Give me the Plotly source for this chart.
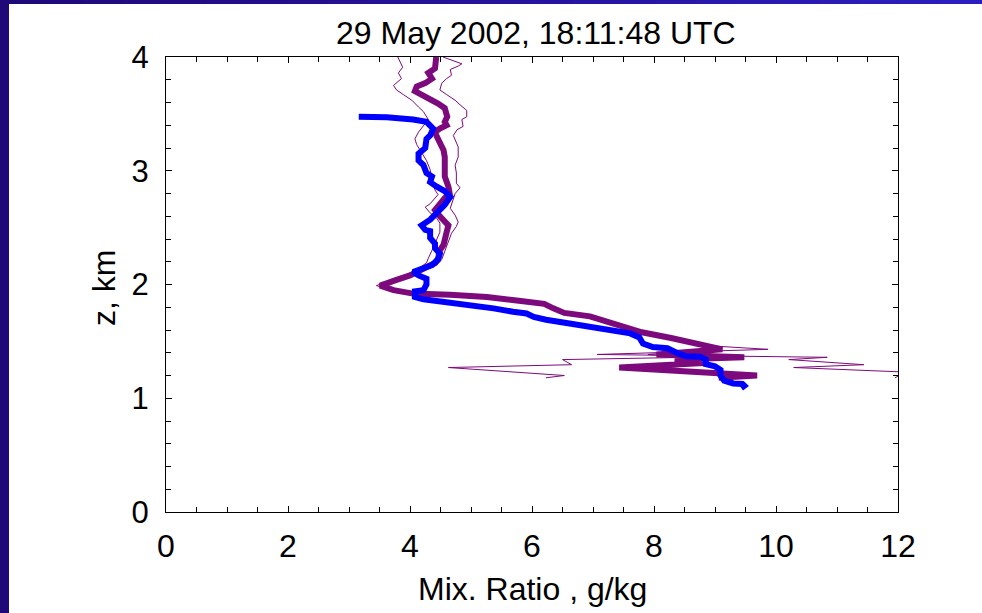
import plotly.graph_objects as go

# ---------------- data ----------------
blue_x = [3.16, 3.62, 4.05, 4.27, 4.38, 4.33, 4.27, 4.25, 4.14, 4.14, 4.22, 4.27, 4.36, 4.33, 4.44,
          4.57, 4.66, 4.57, 4.46, 4.33, 4.19, 4.25, 4.33, 4.33, 4.41, 4.41, 4.49, 4.46, 4.36, 4.22,
          4.05, 4.14, 4.27, 4.27, 4.22, 4.08, 4.08, 4.22, 4.55, 4.82, 5.09, 5.37, 5.69, 5.91, 6.03,
          6.23, 6.59, 6.95, 7.13, 7.37, 7.61, 7.76, 7.82, 7.98, 8.22, 8.37, 8.52, 8.76, 8.85, 8.85,
          9.00, 9.09, 9.09, 9.15, 9.30, 9.45, 9.48, 9.43]
blue_z = [3.475, 3.47, 3.45, 3.43, 3.37, 3.31, 3.28, 3.20, 3.15, 3.09, 3.05, 2.98, 2.95, 2.90, 2.86,
          2.82, 2.77, 2.70, 2.64, 2.57, 2.52, 2.48, 2.47, 2.41, 2.36, 2.32, 2.27, 2.22, 2.17, 2.14,
          2.11, 2.08, 2.05, 2.00, 1.95, 1.94, 1.89, 1.87, 1.85, 1.835, 1.82, 1.79, 1.76, 1.745, 1.715,
          1.69, 1.66, 1.63, 1.61, 1.59, 1.57, 1.535, 1.48, 1.45, 1.44, 1.40, 1.37, 1.365, 1.34, 1.30,
          1.28, 1.25, 1.20, 1.155, 1.13, 1.125, 1.11, 1.09]

mean_x = [4.43, 4.41, 4.30, 4.36, 4.25, 4.11, 4.08, 4.19, 4.33, 4.46, 4.57, 4.61, 4.57, 4.60, 4.49,
          4.41, 4.44, 4.49, 4.55, 4.57, 4.57, 4.57, 4.63, 4.65, 4.57, 4.46, 4.41, 4.49, 4.57, 4.63,
          4.60, 4.57, 4.55, 4.49, 4.46, 4.41, 4.30, 4.16, 4.00, 3.78, 3.51, 3.73, 4.05, 4.66, 5.26,
          5.75, 6.20, 6.35, 6.53, 6.95, 7.19, 7.43, 7.80, 8.28, 8.76, 9.12, 8.04, 9.48, 8.34, 8.82,
          7.43, 9.69, 9.06]
mean_z = [4.00, 3.90, 3.86, 3.81, 3.77, 3.74, 3.70, 3.67, 3.64, 3.59, 3.55, 3.475, 3.43, 3.40, 3.37,
          3.34, 3.30, 3.24, 3.18, 3.12, 3.04, 2.95, 2.86, 2.80, 2.76, 2.70, 2.655, 2.60, 2.55, 2.52,
          2.46, 2.41, 2.35, 2.30, 2.23, 2.19, 2.16, 2.13, 2.08, 2.04, 1.99, 1.95, 1.92, 1.91, 1.89,
          1.86, 1.83, 1.79, 1.75, 1.72, 1.68, 1.63, 1.58, 1.53, 1.47, 1.43, 1.385, 1.36, 1.34, 1.31,
          1.27, 1.20, 1.18]

lo_x = [3.80, 3.88, 3.81, 3.86, 3.73, 3.78, 3.89, 4.03, 4.14, 4.22, 4.30, 4.22, 4.14, 4.08, 4.11,
        4.27, 4.33, 4.36, 4.41, 4.46, 4.33, 4.25, 4.33, 4.44, 4.49, 4.49, 4.46, 4.41, 4.36, 4.30,
        4.27, 4.14, 3.95, 3.72, 3.45, 3.70, 4.05, 4.62, 5.22, 5.72, 6.17, 6.32, 6.50, 6.92, 7.16,
        7.40, 7.77, 8.25, 8.73, 8.90, 7.90, 8.60, 6.50, 6.65, 4.63, 6.53, 6.23]
lo_z = [4.00, 3.91, 3.86, 3.81, 3.75, 3.71, 3.67, 3.62, 3.56, 3.52, 3.45, 3.40, 3.34, 3.28, 3.23,
        3.09, 3.01, 2.92, 2.83, 2.79, 2.71, 2.68, 2.63, 2.58, 2.54, 2.46, 2.42, 2.36, 2.30, 2.23,
        2.19, 2.14, 2.09, 2.05, 1.99, 1.95, 1.925, 1.915, 1.895, 1.865, 1.835, 1.795, 1.755, 1.725, 1.685,
        1.635, 1.585, 1.535, 1.475, 1.43, 1.385, 1.36, 1.34, 1.295, 1.27, 1.20, 1.18]

hi_x = [4.54, 4.85, 4.79, 4.66, 4.68, 4.60, 4.52, 4.49, 4.60, 4.74, 4.82, 4.93, 4.93, 4.85, 4.87,
        4.77, 4.71, 4.74, 4.79, 4.79, 4.74, 4.76, 4.76, 4.82, 4.74, 4.66, 4.74, 4.79, 4.76, 4.68,
        4.63, 4.57, 4.52, 4.44, 4.27, 4.05, 3.82, 3.55, 3.76, 4.08, 4.70, 5.30, 5.78, 6.23, 6.38,
        6.56, 6.98, 7.22, 7.46, 7.83, 8.31, 8.79, 9.87, 7.07, 10.84, 10.21, 11.44, 10.29, 12.13, 11.95]
hi_z = [4.00, 3.94, 3.92, 3.89, 3.84, 3.81, 3.77, 3.71, 3.67, 3.62, 3.58, 3.53, 3.475, 3.45, 3.39,
        3.36, 3.31, 3.27, 3.21, 3.12, 3.05, 2.98, 2.89, 2.85, 2.80, 2.67, 2.61, 2.55, 2.51, 2.45,
        2.38, 2.30, 2.22, 2.17, 2.14, 2.09, 2.05, 1.995, 1.955, 1.925, 1.905, 1.885, 1.855, 1.825, 1.785,
        1.745, 1.715, 1.675, 1.625, 1.575, 1.525, 1.465, 1.43, 1.385, 1.36, 1.34, 1.295, 1.27, 1.23, 1.18]

x_ticks = [0, 2, 4, 6, 8, 10, 12]
y_ticks = [0, 1, 2, 3, 4]

title_text = "29 May 2002, 18:11:48 UTC"
x_title = "Mix. Ratio , g/kg"
y_title = "z, km"

# ---------------- layout geometry ----------------
W, H = 982, 613
L, R, T, B = 166, 898, 57, 512          # plot area in pixels
PW, PH = R - L, B - T


def px(xp):
    return (xp - L) / PW


def py(yp):
    return (B - yp) / PH


PURPLE = "#7d0a7d"
FONT = "Liberation Sans, Arial, sans-serif"

fig = go.Figure()
for xs, zs in ((lo_x, lo_z), (hi_x, hi_z)):
    fig.add_trace(go.Scatter(x=xs, y=zs, mode="lines",
                             line=dict(color=PURPLE, width=1), showlegend=False))
fig.add_trace(go.Scatter(x=mean_x, y=mean_z, mode="lines",
                         line=dict(color=PURPLE, width=6), showlegend=False))
fig.add_trace(go.Scatter(x=blue_x, y=blue_z, mode="lines",
                         line=dict(color="#0000ff", width=6), showlegend=False))

# slide border (dark indigo left bar and top bar)
shapes = [dict(type="rect", xref="paper", yref="paper",
               x0=px(0), x1=px(9), y0=py(H), y1=py(0),
               fillcolor="#1f0878", line=dict(width=0), layer="above")]
n = 24
c0, c1 = (0x1f, 0x08, 0x78), (0x2c, 0x1e, 0xbe)
for i in range(n):
    f = i / (n - 1)
    col = "rgb(%d,%d,%d)" % tuple(round(a + (b - a) * f) for a, b in zip(c0, c1))
    shapes.append(dict(type="rect", xref="paper", yref="paper",
                       x0=px(W * i / n), x1=px(W * (i + 1) / n + 1),
                       y0=py(4), y1=py(0),
                       fillcolor=col, line=dict(width=0), layer="above"))

annotations = [
    dict(text=title_text, xref="paper", yref="paper", x=px(536), y=py(33),
         xanchor="center", yanchor="middle", showarrow=False,
         font=dict(family=FONT, size=32, color="black")),
    dict(text=x_title, xref="paper", yref="paper", x=px(532), y=py(589),
         xanchor="center", yanchor="middle", showarrow=False,
         font=dict(family=FONT, size=32, color="black")),
    dict(text=y_title, xref="paper", yref="paper", x=px(104), y=py(288),
         xanchor="center", yanchor="middle", showarrow=False, textangle=-90,
         font=dict(family=FONT, size=32, color="black")),
]

axis_common = dict(showgrid=False, zeroline=False, showline=True, linecolor="black",
                   linewidth=1, mirror="allticks", ticks="inside", tickcolor="black",
                   ticklen=6, tickwidth=1)

fig.update_layout(
    width=W, height=H, autosize=False,
    margin=dict(l=L, r=W - R, t=T, b=H - B, pad=0),
    paper_bgcolor="white", plot_bgcolor="white",
    font=dict(family=FONT, color="black"),
    showlegend=False,
    shapes=shapes, annotations=annotations,
    xaxis=dict(range=[0, 12], tickvals=x_ticks, ticktext=[str(v) for v in x_ticks],
               tickfont=dict(size=32), ticklabelstandoff=6,
               minor=dict(dtick=0.5, tick0=0, ticks="inside", ticklen=5, tickcolor="black"),
               **axis_common),
    yaxis=dict(range=[0, 4], tickvals=y_ticks, ticktext=[str(v) for v in y_ticks],
               tickfont=dict(size=31), ticklabelstandoff=10,
               minor=dict(dtick=0.2, tick0=0, ticks="inside", ticklen=5, tickcolor="black"),
               **axis_common),
)

fig.write_html("out.html",
               config={"displayModeBar": False},
               post_script="document.body.style.margin='0px';"
                           "document.body.style.overflow='hidden';")
